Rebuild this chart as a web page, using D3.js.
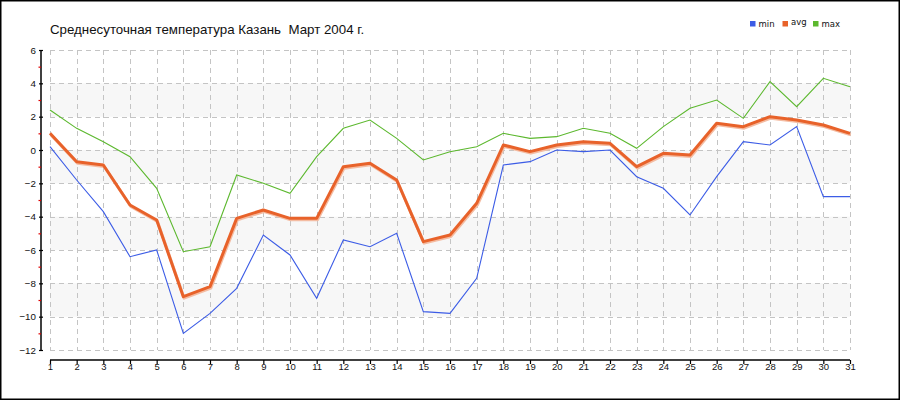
<!DOCTYPE html>
<html><head><meta charset="utf-8">
<script src="https://cdn.jsdelivr.net/npm/d3@7"></script>
<style>
html,body{margin:0;padding:0;background:#fff;}
svg{display:block;}
</style></head>
<body>
<svg id="chart" width="900" height="400"></svg>
<script>
const days = d3.range(1, 32);
const tMin = [0.2,-1.8,-3.7,-6.4,-6.0,-11.0,-9.8,-8.3,-5.1,-6.3,-8.9,-5.4,-5.8,-5.0,-9.7,-9.8,-7.7,-0.9,-0.7,0.0,-0.1,0.0,-1.6,-2.3,-3.9,-1.6,0.5,0.3,1.4,-2.8,-2.8];
const tAvg = [1.0,-0.7,-0.9,-3.3,-4.2,-8.8,-8.2,-4.1,-3.6,-4.1,-4.1,-1.0,-0.8,-1.8,-5.5,-5.1,-3.2,0.3,-0.1,0.3,0.5,0.4,-1.0,-0.2,-0.3,1.6,1.4,2.0,1.8,1.5,1.0];
const tMax = [2.4,1.3,0.5,-0.4,-2.3,-6.1,-5.8,-1.5,-2.0,-2.6,-0.4,1.3,1.8,0.7,-0.6,-0.1,0.2,1.0,0.7,0.8,1.3,1.0,0.1,1.4,2.5,3.0,1.9,4.1,2.6,4.3,3.8];
const yMajor = [6,4,2,0,-2,-4,-6,-8,-10,-12];
const yMinor = [5,3,1,-1,-3,-5,-7,-9,-11];
const bands = [[2,4],[-2,0],[-6,-4],[-10,-8]];
const seriesNames = ["min","avg","max"];
const seriesColors = ["#3c5ce6","#e8622a","#5cb82e"];
const title = "Среднесуточная температура Казань\u00a0 Март 2004 г.";

const svg = d3.select("#chart");
const x = d3.scaleLinear().domain([1,31]).range([50,850]);
const y = d3.scaleLinear().domain([-12,6]).range([350,50]);

// frame
svg.append("rect").attr("x",0.75).attr("y",0.75).attr("width",898.5).attr("height",398.5)
  .attr("fill","#fff").attr("stroke","#000").attr("stroke-width",1.5);

// bands
svg.append("g").selectAll("rect").data(bands).join("rect")
  .attr("x",x(1)).attr("width",x(31)-x(1))
  .attr("y",d=>y(d[1])).attr("height",d=>y(d[0])-y(d[1]))
  .attr("fill","#f7f7f7");

// grid
const grid = svg.append("g").attr("stroke","#c4c4c4").attr("stroke-width",1).attr("stroke-dasharray","5,4");
grid.selectAll("line.h").data(yMajor).join("line").attr("class","h")
  .attr("x1",x(1)).attr("x2",x(31)).attr("y1",d=>Math.round(y(d))+0.5).attr("y2",d=>Math.round(y(d))+0.5);
grid.selectAll("line.v").data(days).join("line").attr("class","v")
  .attr("y1",y(6)).attr("y2",y(-12)).attr("x1",d=>Math.round(x(d))+0.5).attr("x2",d=>Math.round(x(d))+0.5);

// y axis
const yAxisG = svg.append("g").attr("transform","translate(41,0)")
  .call(d3.axisLeft(y).tickValues(yMajor).tickSize(2).tickPadding(3).tickFormat(d3.format("d")));
yAxisG.select(".domain").attr("d","M0,"+y(6)+"V"+y(-12)).attr("stroke","#000").attr("stroke-width",1.5);
yAxisG.selectAll(".tick line").attr("x1",2).attr("stroke","#000").attr("stroke-width",1.2);
yAxisG.selectAll(".tick text").attr("font-family","Liberation Sans, Arial, sans-serif").attr("font-size",9.8).attr("fill","#111");
const yMinorG = svg.append("g").attr("transform","translate(41,0)")
  .call(d3.axisLeft(y).tickValues(yMinor).tickSize(2.5).tickFormat(""));
yMinorG.select(".domain").remove();
yMinorG.selectAll(".tick line").attr("stroke","#e00000").attr("stroke-width",1.2);

// x axis
const xAxisG = svg.append("g").attr("transform","translate(0,360)")
  .call(d3.axisBottom(x).tickValues(days).tickSize(4).tickPadding(-1).tickFormat(d3.format("d")));
xAxisG.select(".domain").attr("d","M"+x(1)+",0H"+x(31)).attr("stroke","#000").attr("stroke-width",1.5);
xAxisG.selectAll(".tick line").attr("stroke","#000").attr("stroke-width",1.2);
xAxisG.selectAll(".tick text").attr("font-family","Liberation Sans, Arial, sans-serif").attr("font-size",9.5).attr("fill","#111");

// lines
const line = d3.line().x((d,i)=>x(days[i])).y(d=>y(d));
svg.append("path").datum(tMin).attr("d",line).attr("fill","none").attr("stroke",seriesColors[0]).attr("stroke-width",1.1);
svg.append("path").datum(tMax).attr("d",line).attr("fill","none").attr("stroke",seriesColors[2]).attr("stroke-width",1.1);
svg.append("path").datum(tAvg).attr("d",line).attr("fill","none").attr("stroke","#f4bca2").attr("stroke-width",3)
  .attr("transform","translate(0.8,1.5)").attr("stroke-linejoin","round");
svg.append("path").datum(tAvg).attr("d",line).attr("fill","none").attr("stroke",seriesColors[1]).attr("stroke-width",3)
  .attr("stroke-linejoin","round");

// title
svg.append("text").attr("x",50).attr("y",33.5).attr("font-family","Liberation Sans, Arial, sans-serif")
  .attr("font-size",13.3).attr("fill","#111").text(title);

// legend
const legX = [750,782.5,813];
const leg = svg.append("g");
seriesNames.forEach((n,i)=>{
  leg.append("rect").attr("x",legX[i]).attr("y",21).attr("width",5.5).attr("height",5.5).attr("fill",seriesColors[i]);
  leg.append("text").attr("x",legX[i]+8.5).attr("y",i===1?24.5:26.5).attr("font-family","DejaVu Sans, Verdana, sans-serif")
    .attr("font-size",8.5).attr("fill","#111").text(n);
});
</script>
</body></html>
